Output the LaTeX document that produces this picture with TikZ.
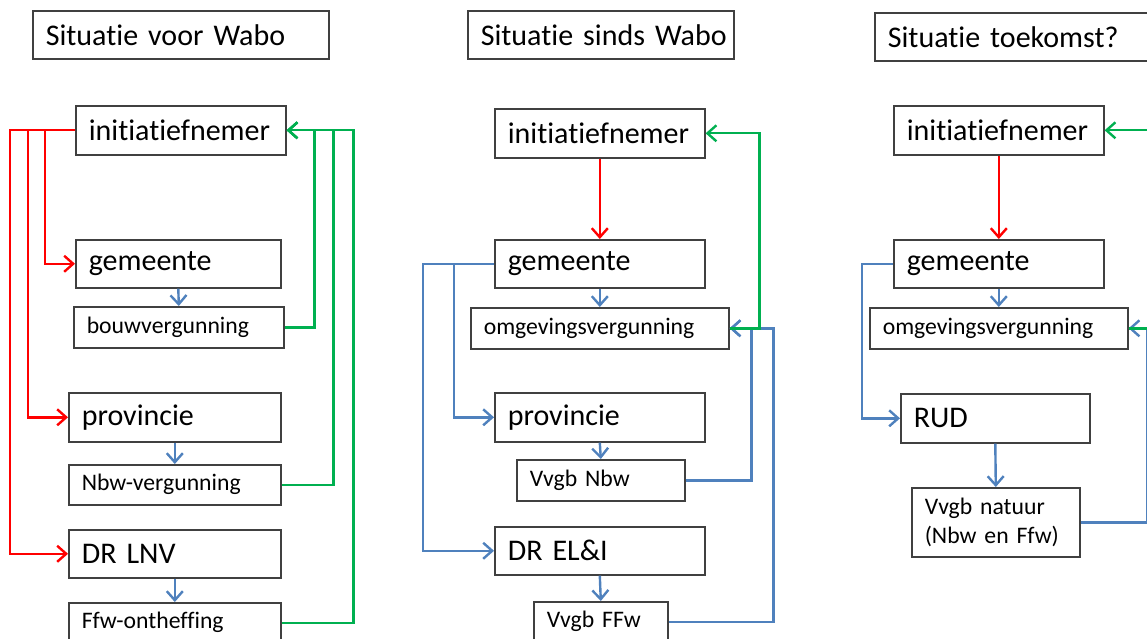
\documentclass[tikz,border=0pt]{standalone}
\usepackage{fontspec}
\setmainfont{Carlito}[Ligatures={NoCommon},WordSpace=0.85]
\usetikzlibrary{arrows.meta,calc}
\definecolor{rline}{RGB}{255,0,0}
\definecolor{gline}{RGB}{0,176,80}
\definecolor{bline}{RGB}{79,129,189}
\definecolor{bord}{RGB}{64,64,64}
\newcommand\bigf{\fontsize{30}{36}\selectfont}
\newcommand\smallf{\fontsize{23.7}{29}\selectfont}
\newcommand\bx[7]{%
  \pgfmathsetmacro\bxw{#4-#2}%
  \pgfmathsetmacro\bxh{#5-#3}%
  \pgfmathsetmacro\bxt{#4-#2-26}%
  \node[box,font=#6,minimum width=\bxw pt,minimum height=\bxh pt,text width=\bxt pt] (#1) at (#2,#3) {#7};}
\tikzset{
  box/.style={draw=bord,line width=1.6pt,rectangle,anchor=north west,align=left,inner xsep=13pt,inner ysep=0pt,text=black},
  arr/.style={line width=2.4pt,-{Straight Barb[length=9pt,width=16pt,line width=2.4pt]}},
  redc/.style={arr,draw=rline},
  grnc/.style={arr,draw=gline},
  bluc/.style={arr,draw=bline},
}
\begin{document}
\begin{tikzpicture}[x=1pt,y=-1pt]
\useasboundingbox (0,0) rectangle (1147,639);
\clip (0,0) rectangle (1147,639);
% titles
\bx{t1}{32}{10}{328}{58}{\bigf}{\mbox{Situatie voor Wabo}}
\bx{t2}{467}{10}{733}{58}{\bigf}{\mbox{Situatie sinds Wabo}}
\bx{t3}{874}{12}{1170}{60}{\bigf}{\mbox{Situatie toekomst?}}
% column 1
\bx{i1}{75}{105}{285}{154}{\bigf}{initiatiefnemer}
\bx{g1}{75}{239}{280}{287}{\bigf}{gemeente}
\bx{b1}{73}{306}{283}{347}{\smallf}{bouwvergunning}
\bx{p1}{68}{392}{280}{441}{\bigf}{provincie}
\bx{n1}{68}{464}{280}{504}{\smallf}{Nbw-vergunning}
\bx{d1}{68}{529}{280}{577}{\bigf}{DR LNV}
\bx{f1}{68}{602}{280}{642}{\smallf}{Ffw-ontheffing}
% column 2
\bx{i2}{494}{108}{704}{157}{\bigf}{initiatiefnemer}
\bx{g2}{494}{239}{704}{287}{\bigf}{gemeente}
\bx{o2}{470}{307}{728}{348}{\smallf}{omgevingsvergunning}
\bx{p2}{494}{392}{704}{441}{\bigf}{provincie}
\bx{vn2}{516}{459}{684}{500}{\smallf}{Vvgb Nbw}
\bx{d2}{494}{526}{704}{574}{\bigf}{DR EL\&I}
\bx{vf2}{533}{601}{667}{641}{\smallf}{Vvgb FFw}
% column 3
\bx{i3}{893}{105}{1103}{154}{\bigf}{initiatiefnemer}
\bx{g3}{893}{239}{1103}{287}{\bigf}{gemeente}
\bx{o3}{869}{307}{1127}{348}{\smallf}{omgevingsvergunning}
\bx{r3}{900}{393}{1089}{442}{\bigf}{RUD}
\bx{vn3}{911}{487}{1079}{556}{\smallf}{Vvgb natuur\\(Nbw en Ffw)}
% column 1 connectors
\draw[redc] (i1.west) -| ($(g1.west)+(-30,0)$) -- (g1.west);
\draw[redc] (i1.west) -| ($(p1.west)+(-40,0)$) -- (p1.west);
\draw[redc] (i1.west) -| ($(d1.west)+(-58,0)$) -- (d1.west);
\draw[grnc] (b1.east) -| ($(i1.east)+(28,0)$) -- (i1.east);
\draw[grnc] (n1.east) -| ($(i1.east)+(47,0)$) -- (i1.east);
\draw[grnc] (f1.east) -| ($(i1.east)+(67,0)$) -- (i1.east);
\draw[bluc] (g1.south) -- (b1.north);
\draw[bluc] (p1.south) -- (n1.north);
\draw[bluc] (d1.south) -- (f1.north);
% column 2 connectors
\draw[redc] (i2.south) -- (g2.north);
\draw[bluc] (g2.west) -| ($(p2.west)+(-40,0)$) -- (p2.west);
\draw[bluc] (g2.west) -| ($(d2.west)+(-71,0)$) -- (d2.west);
\draw[bluc] (g2.south) -- (o2.north);
\draw[bluc] (p2.south) -- (vn2.north);
\draw[bluc] (d2.south) -- (vf2.north);
\draw[bluc] (vn2.east) -| ($(o2.east)+(22,0)$) -- (o2.east);
\draw[bluc] (vf2.east) -| ($(o2.east)+(44,0)$) -- (o2.east);
\draw[grnc] (o2.east) -| ($(i2.east)+(54,0)$) -- (i2.east);
% column 3 connectors
\draw[redc] (i3.south) -- (g3.north);
\draw[bluc] (g3.west) -| ($(r3.west)+(-38,0)$) -- (r3.west);
\draw[bluc] (g3.south) -- (o3.north);
\draw[bluc] (r3.south) -- (vn3.north);
\draw[bluc] (vn3.east) -| ($(o3.east)+(19,0)$) -- (o3.east);
\coordinate (gc3) at ($(i3.east)+(60,0)$);
\draw[grnc,-] (o3.east) -| (gc3);
\draw[grnc] (gc3) -- (i3.east);
\end{tikzpicture}
\end{document}
